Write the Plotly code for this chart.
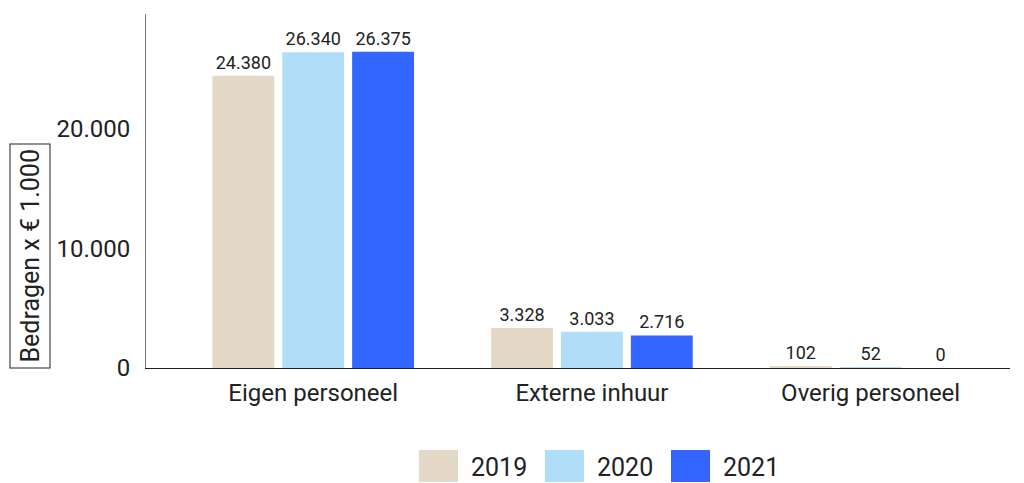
import plotly.graph_objects as go

categories = ["Eigen personeel", "Externe inhuur", "Overig personeel"]
years = ["2019", "2020", "2021"]
values_2019 = [24380, 3328, 102]
values_2020 = [26340, 3033, 52]
values_2021 = [26375, 2716, 0]
colors = ["#E3D9C6", "#B0DEF8", "#3366FF"]
y_title = "Bedragen x € 1.000"

series = [values_2019, values_2020, values_2021]

fig = go.Figure()
for name, vals, col in zip(years, series, colors):
    fig.add_trace(go.Bar(
        x=categories, y=vals, name=name, marker=dict(color=col, line=dict(width=0)),
        texttemplate="%{y:,.0f}", textposition="outside",
        textfont=dict(size=18, color="#222222"), cliponaxis=False, showlegend=False,
    ))

# plot area in screenshot pixels: left 146, bottom 368, width 864, height 354
PW, PH, PL, PB = 864, 354, 146, 368

# custom legend built from the series names / colours
leg_x0 = 419
sw_w, sw_h = 39, 32
step = 126
for i, (name, col) in enumerate(zip(years, colors)):
    x0 = leg_x0 + i * step
    fig.add_shape(type="rect", xref="paper", yref="paper",
                  x0=(x0 - PL) / PW, x1=(x0 + sw_w - PL) / PW,
                  y0=(PB - 450 - sw_h) / PH, y1=(PB - 450) / PH,
                  fillcolor=col, line=dict(width=0))
    fig.add_annotation(xref="paper", yref="paper", x=(x0 + 50 - PL) / PW,
                       y=(PB - 467) / PH, text=name, showarrow=False,
                       xanchor="left", yanchor="middle",
                       font=dict(size=25, color="#222222"))

fig.add_annotation(xref="paper", yref="paper", x=(30 - PL) / PW, y=(PB - 255.5) / PH,
                   text=y_title, textangle=-90, showarrow=False,
                   xanchor="center", yanchor="middle",
                   font=dict(size=25, color="#222222"),
                   bordercolor="#222222", borderwidth=1, borderpad=5, bgcolor="white")

fig.update_layout(
    width=1024, height=483,
    margin=dict(l=138, r=22, t=6, b=123),
    barmode="group", bargap=0.248, bargroupgap=0.114,
    plot_bgcolor="white", paper_bgcolor="white",
    separators=",.",
    font=dict(family="Roboto", color="#222222"),
    xaxis=dict(range=[-0.6, 2.5], showline=True, linecolor="#222222", linewidth=1,
               ticks="", tickfont=dict(size=24, color="#222222"), ticklabelstandoff=3),
    yaxis=dict(range=[0, 29530], showline=True, linecolor="#777777", linewidth=1,
               showgrid=False, zeroline=False, tickvals=[0, 10000, 20000],
               tickformat=",.0f", ticks="", ticklabelstandoff=10,
               tickfont=dict(size=24, color="#222222")),
)

fig.write_html("out.html")
